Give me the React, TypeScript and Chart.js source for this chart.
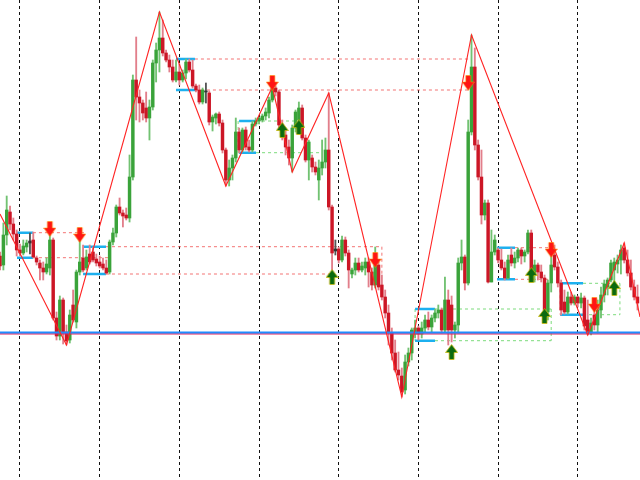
import React, { useEffect, useRef } from "react";
import { Chart, registerables } from "chart.js";

Chart.register(...registerables);

// bar index of the first candle (index 0 = first vertical grid line)
const FIRST_BAR = -6;
const X_MIN = -6.02;
const X_MAX = 186.75;
// bars where a new session (vertical grid line) starts
const sessionBars = [0, 24, 48, 72, 96, 120, 144, 168];

const opens = [
  224, 215, 245, 268, 256, 246,
  230, 227, 233, 237, 240, 222, 217, 212, 208, 212,
  240, 162, 144, 180, 148, 140, 175, 158, 208, 222,
  212, 226, 228, 221, 218, 216, 212, 208, 238, 247,
  273, 267, 265, 262, 303, 400, 383, 377, 372, 362,
  373, 417, 430, 442, 427, 420, 413, 400, 408, 400,
  407, 418, 410, 394, 390, 378, 389, 387, 358, 362,
  366, 357, 330, 300, 312, 322, 348, 330, 350, 333,
  330, 356, 359, 360, 364, 367, 380, 392, 388, 355,
  345, 333, 322, 352, 360, 372, 342, 320, 322, 313,
  300, 312, 318, 330, 273, 229, 231, 220, 240, 227,
  206, 210, 217, 210, 212, 218, 208, 195, 215, 195,
  183, 167, 147, 127, 110, 104, 90, 118, 127, 146,
  152, 146, 152, 160, 153, 162, 167, 170, 150, 180,
  175, 150, 155, 217, 223, 197, 348, 413, 335, 303,
  265, 277, 198, 228, 230, 220, 212, 202, 225, 217,
  222, 230, 224, 228, 247, 205, 215, 208, 202, 168,
  197, 225, 213, 197, 178, 168, 183, 177, 183, 177,
  182, 160, 147, 165, 155, 170, 185, 193, 200, 210,
  216, 220, 232, 220, 207, 193, 183,
];
const highs = [
  228, 257, 284, 274, 262, 250,
  236, 240, 240, 247, 248, 224, 220, 218, 222, 248,
  242, 168, 184, 182, 155, 170, 190, 210, 240, 235,
  230, 235, 233, 226, 224, 222, 220, 240, 252, 275,
  282, 270, 272, 325, 405, 443, 390, 380, 388, 380,
  420, 437, 468, 460, 430, 425, 420, 420, 416, 410,
  421, 421, 420, 396, 395, 392, 397, 389, 365, 367,
  368, 360, 332, 320, 325, 362, 352, 352, 353, 340,
  359, 362, 363, 366, 372, 383, 393, 394, 390, 360,
  350, 340, 355, 370, 378, 375, 345, 340, 325, 318,
  320, 340, 342, 387, 275, 240, 233, 244, 243, 230,
  212, 222, 222, 218, 222, 222, 212, 233, 218, 205,
  190, 175, 152, 140, 128, 112, 125, 132, 152, 160,
  154, 158, 165, 168, 165, 171, 175, 172, 203, 190,
  184, 158, 222, 240, 225, 360, 445, 432, 340, 330,
  280, 280, 250, 245, 232, 231, 218, 225, 232, 228,
  232, 232, 230, 250, 250, 220, 217, 215, 205, 200,
  224, 235, 218, 200, 190, 188, 188, 185, 184, 187,
  184, 180, 162, 173, 180, 193, 200, 202, 220, 222,
  225, 235, 237, 230, 220, 200, 195,
];
const lows = [
  210, 210, 235, 250, 240, 224,
  224, 225, 228, 226, 222, 215, 200, 200, 206, 205,
  160, 140, 140, 136, 135, 137, 158, 152, 205, 208,
  210, 216, 218, 214, 212, 210, 206, 206, 235, 243,
  265, 253, 260, 258, 300, 360, 358, 360, 358, 340,
  370, 398, 408, 424, 418, 408, 398, 398, 395, 398,
  401, 408, 392, 388, 376, 376, 377, 355, 349, 356,
  354, 327, 294, 294, 300, 318, 327, 328, 330, 328,
  328, 354, 356, 358, 360, 362, 378, 384, 352, 340,
  325, 315, 308, 348, 350, 340, 318, 300, 308, 305,
  280, 305, 312, 270, 210, 225, 217, 218, 224, 192,
  202, 205, 208, 208, 205, 193, 190, 192, 190, 180,
  162, 135, 120, 108, 100, 83, 86, 114, 120, 142,
  140, 142, 148, 150, 148, 158, 162, 147, 148, 135,
  138, 142, 147, 210, 190, 195, 345, 330, 300, 256,
  260, 197, 198, 225, 217, 210, 200, 201, 214, 212,
  218, 216, 218, 226, 202, 198, 200, 198, 167, 160,
  188, 210, 193, 165, 166, 166, 175, 175, 173, 172,
  150, 145, 145, 150, 147, 162, 178, 185, 198, 195,
  207, 206, 217, 204, 190, 180, 170,
];
const closes = [
  214, 245, 270, 256, 246, 230,
  227, 234, 237, 239, 223, 218, 212, 208, 216, 240,
  162, 144, 180, 147, 139, 165, 160, 208, 218, 210,
  223, 218, 220, 217, 214, 212, 207, 238, 247, 273,
  267, 264, 262, 303, 400, 383, 377, 367, 362, 373,
  417, 430, 442, 427, 420, 413, 400, 408, 400, 407,
  418, 410, 394, 390, 378, 390, 388, 358, 363, 366,
  357, 330, 300, 312, 322, 348, 330, 350, 333, 330,
  356, 359, 362, 364, 368, 380, 392, 388, 355, 345,
  333, 322, 352, 368, 372, 342, 320, 338, 313, 308,
  312, 318, 330, 273, 227, 231, 220, 240, 227, 210,
  210, 217, 210, 214, 218, 208, 195, 215, 193, 183,
  167, 147, 127, 110, 105, 88, 118, 127, 150, 152,
  146, 152, 160, 153, 162, 167, 170, 150, 180, 150,
  150, 155, 217, 223, 197, 348, 413, 335, 303, 265,
  277, 198, 228, 240, 220, 212, 202, 220, 217, 222,
  230, 224, 228, 247, 205, 215, 208, 202, 170, 197,
  215, 213, 197, 170, 168, 183, 177, 183, 177, 182,
  154, 147, 157, 155, 170, 185, 196, 200, 217, 218,
  220, 230, 220, 207, 193, 183, 177,
];

// ZigZag pivots
const zigzagBars = [-6.02, 14, 42, 62, 76, 82, 93, 115, 136, 171, 182, 186.75];
const zigzagLevels = [266, 135, 468, 294, 393, 308, 387, 83, 445, 145, 237, 163];

// signal arrows
const sellBars = [9, 18, 76, 107, 135, 160, 173];
const sellLevels = [251, 245, 397, 220, 397, 230, 175];
const buyBars = [79, 84, 94, 130, 154, 158, 179];
const buyLevels = [350, 353, 203, 128, 205, 164, 192];

// key horizontal levels
const keyLevelBlue = 147.5;
const keyLevelRed = 146.2;

// range boxes: [fromBar, toBar, high, low]
const rangeBoxes = [
  [-0.9, 3.9, 247.3, 222.3],
  [19, 25.9, 233.3, 206],
  [47, 52.7, 421, 390],
  [66, 71.1, 359, 327.3],
  [119, 125, 171, 139.3],
  [143.7, 149.1, 232.3, 200.7],
  [162.7, 169.6, 196.7, 165.3],
];
// red dashed extensions: [fromBar, toBar, level]
const redExtensions = [
  [3.9, 19.6, 247.3],
  [3.9, 26.5, 222.3],
  [25.9, 109, 233.3],
  [25.9, 94.9, 206],
  [52.7, 136, 421],
  [52.7, 136, 390],
  [149.1, 160.5, 232.3],
  [149.1, 160.5, 200.7],
];
const redVerticals = [
  [109, 233.3, 206],
  [162.7, 196.7, 165.3],
];
const greenExtensions = [
  [71.1, 85, 359],
  [71.1, 90.4, 327.3],
  [125, 160, 171],
  [125, 160, 139.3],
  [169.6, 180.7, 196.7],
  [169.6, 180.7, 165.3],
];
const greenVerticals = [
  [65.7, 359, 327.3],
  [119, 171, 139.3],
  [160, 171, 139.3],
  [180.7, 196.7, 165.3],
];

function segPoints(h: number[][], v: number[][]) {
  const pts: any[] = [];
  h.forEach(([a, b, y]) => {
    pts.push({ x: a, y }, { x: b, y }, { x: b, y: null });
  });
  v.forEach(([x, y1, y2]) => {
    pts.push({ x, y: y1 }, { x, y: y2 }, { x, y: null });
  });
  return pts;
}

function makeArrow(down: boolean, fill: string, edge: string) {
  const c = document.createElement("canvas");
  const w = 13;
  const h = 16;
  c.width = w;
  c.height = h;
  const g = c.getContext("2d")!;
  g.beginPath();
  if (down) {
    g.moveTo(4, 0.5);
    g.lineTo(9, 0.5);
    g.lineTo(9, 7);
    g.lineTo(12.5, 7);
    g.lineTo(6.5, 15.5);
    g.lineTo(0.5, 7);
    g.lineTo(4, 7);
  } else {
    g.moveTo(6.5, 0.5);
    g.lineTo(12.5, 8.5);
    g.lineTo(9, 8.5);
    g.lineTo(9, 15.5);
    g.lineTo(4, 15.5);
    g.lineTo(4, 8.5);
    g.lineTo(0.5, 8.5);
  }
  g.closePath();
  g.fillStyle = fill;
  g.fill();
  g.strokeStyle = edge;
  g.lineWidth = 1;
  g.stroke();
  return c;
}

export default function App() {
  const ref = useRef<HTMLCanvasElement>(null);

  useEffect(() => {
    const canvas = ref.current;
    if (!canvas) return;

    const bodyColors: string[] = [];
    const wickColors: string[] = [];
    const bodies: any[] = [];
    const wicks: any[] = [];
    opens.forEach((o, i) => {
      const c = closes[i];
      const x = FIRST_BAR + i;
      const doji = Math.abs(c - o) <= 2;
      const up = c > o;
      bodyColors.push(doji ? "#333333" : up ? "#3aa33a" : "#cc1626");
      wickColors.push(doji ? "#555555" : up ? "#72c272" : "#e27f8b");
      bodies.push({ x, y: [o, c] });
      wicks.push({ x, y: [lows[i], highs[i]] });
    });

    const boxH: number[][] = [];
    rangeBoxes.forEach(([a, b, hi, lo]) => {
      boxH.push([a, b, hi], [a, b, lo]);
    });

    const sellImg = makeArrow(true, "#ff1414", "rgba(255,150,0,0.55)");
    const buyImg = makeArrow(false, "#0b6a10", "rgba(215,190,0,0.7)");

    const chart = new Chart(canvas, {
      type: "bar",
      data: {
        datasets: [
          {
            type: "line",
            data: segPoints(redExtensions, redVerticals),
            borderColor: "rgba(240,80,80,0.8)",
            borderWidth: 1,
            borderDash: [3, 3],
            pointRadius: 0,
            order: 11,
          } as any,
          {
            type: "line",
            data: segPoints(greenExtensions, greenVerticals),
            borderColor: "rgba(110,215,110,0.9)",
            borderWidth: 1,
            borderDash: [3, 3],
            pointRadius: 0,
            order: 10,
          } as any,
          {
            type: "line",
            data: segPoints(boxH, []),
            borderColor: "#1cb0ef",
            borderWidth: 2.5,
            pointRadius: 0,
            order: 9,
          } as any,
          {
            type: "bar",
            data: wicks,
            backgroundColor: wickColors,
            barThickness: 1.2,
            grouped: false,
            order: 8,
          } as any,
          {
            type: "bar",
            data: bodies,
            backgroundColor: bodyColors,
            barThickness: 2.8,
            grouped: false,
            order: 7,
          } as any,
          {
            type: "line",
            data: [
              { x: X_MIN, y: keyLevelRed },
              { x: X_MAX, y: keyLevelRed },
            ],
            borderColor: "#e0205e",
            borderWidth: 1.2,
            pointRadius: 0,
            order: 6,
          } as any,
          {
            type: "line",
            data: [
              { x: X_MIN, y: keyLevelBlue },
              { x: X_MAX, y: keyLevelBlue },
            ],
            borderColor: "#1e8cff",
            borderWidth: 2,
            pointRadius: 0,
            order: 5,
          } as any,
          {
            type: "line",
            data: zigzagBars.map((x, i) => ({ x, y: zigzagLevels[i] })),
            borderColor: "#ff2424",
            borderWidth: 1.1,
            pointRadius: 0,
            order: 4,
          } as any,
          {
            type: "scatter",
            data: sellBars.map((x, i) => ({ x, y: sellLevels[i] })),
            pointStyle: sellImg,
            pointRadius: 6,
            order: 2,
          } as any,
          {
            type: "scatter",
            data: buyBars.map((x, i) => ({ x, y: buyLevels[i] })),
            pointStyle: buyImg,
            pointRadius: 6,
            order: 1,
          } as any,
        ],
      },
      options: {
        animation: false,
        responsive: false,
        maintainAspectRatio: false,
        devicePixelRatio: 1,
        events: [],
        layout: { padding: 0, autoPadding: false },
        plugins: { legend: { display: false }, tooltip: { enabled: false } },
        scales: {
          x: {
            type: "linear",
            min: X_MIN,
            max: X_MAX,
            offset: false,
            afterBuildTicks: (scale: any) => {
              scale.ticks = sessionBars.map((v) => ({ value: v }));
            },
            ticks: { display: false },
            grid: { color: "#111111", lineWidth: 1, drawTicks: false, offset: false },
            border: { display: false, dash: [3, 3] },
          },
          y: {
            type: "linear",
            min: 0,
            max: 480,
            display: false,
          },
        },
      } as any,
    });

    return () => chart.destroy();
  }, []);

  return (
    <div
      style={{
        position: "absolute",
        left: 0,
        top: 0,
        width: 640,
        height: 480,
        background: "#ffffff",
      }}
    >
      <canvas ref={ref} width={640} height={480} />
    </div>
  );
}
